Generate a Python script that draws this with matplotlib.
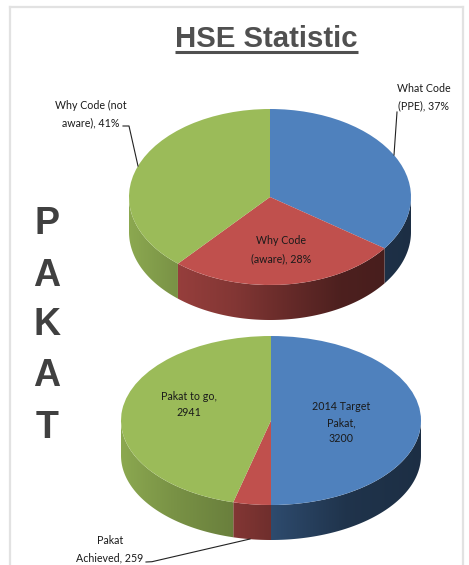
import numpy as np
import matplotlib
matplotlib.use("Agg")
import matplotlib.pyplot as plt
from matplotlib.colors import to_rgb
from matplotlib.patches import Polygon

W, H = 469, 565

top_categories = ["What Code (PPE)", "Why Code (aware)", "Why Code (not aware)"]
top_values = [37, 28, 41]
bottom_categories = ["2014 Target Pakat", "Pakat Achieved", "Pakat to go"]
bottom_values = [3200, 259, 2941]
title_text = "HSE Statistic"
side_letters = ["P", "A", "K", "A", "T"]
colors = ["#4f81bd", "#c0504d", "#9bbb59"]

fig = plt.figure(figsize=(W / 100, H / 100), dpi=100, facecolor="white")


def draw_pie(values, cx, cy, rx, ry, depth):
    left, right = cx - rx, cx + rx
    top, bottom = cy - ry, cy + ry + depth
    ax = fig.add_axes([left / W, 1 - bottom / H, 2 * rx / W, (bottom - top) / H])
    ax.pie(values, colors=colors, startangle=90, counterclock=False,
           radius=1, wedgeprops={"linewidth": 0, "zorder": 5}, normalize=True)
    ax.set_aspect("auto")
    d = depth / ry
    # extruded rim, shaded from left to right through a clipped gradient
    fracs = np.asarray(values, float) / np.sum(values)
    edges = 90 - 360 * np.concatenate([[0], np.cumsum(fracs)])
    u = np.linspace(-1, 1, 400)
    f = np.interp(u, [-1, -0.65, -0.25, 0, 0.5, 1],
                  [0.90, 0.78, 0.68, 0.58, 0.40, 0.36])
    for a0, a1, col in zip(edges[:-1], edges[1:], colors):
        th = np.radians(np.linspace(a0, a1, 400))
        th = th[np.sin(th) <= 1e-9]
        if th.size < 2:
            continue
        x, y = np.cos(th), np.sin(th)
        verts = np.column_stack([np.r_[x, x[::-1]], np.r_[y, y[::-1] - d]])
        clip = Polygon(verts, closed=True, transform=ax.transData,
                       facecolor="none", edgecolor="none")
        ax.add_patch(clip)
        img = f[None, :, None] * np.array(to_rgb(col))[None, None, :]
        im = ax.imshow(img, extent=(-1, 1, -1 - d, 1), aspect="auto",
                       interpolation="bilinear", zorder=1)
        im.set_clip_path(clip)
    ax.set_aspect("auto")
    ax.set_xlim(-1, 1)
    ax.set_ylim(-1 - d, 1)
    ax.axis("off")
    return ax


draw_pie(top_values, 270, 197, 141, 88, 35)
draw_pie(bottom_values, 271, 420.5, 150, 84.5, 35)

ov = fig.add_axes([0, 0, 1, 1], zorder=10)
ov.set_xlim(0, W)
ov.set_ylim(H, 0)
ov.axis("off")
ov.patch.set_alpha(0)

# page frame
ov.plot([10, 10], [7, 565], color="#e2e2e2", lw=1.6)
ov.plot([10, 463], [7, 7], color="#e2e2e2", lw=1.6)
ov.plot([463, 463], [7, 565], color="#e2e2e2", lw=1.6)

# title
ov.text(266.5, 39, title_text, family="Liberation Sans", weight="bold", fontsize=21.2,
        color="#505050", ha="center", va="center")
ov.plot([175, 358], [52, 52], color="#505050", lw=2.2, solid_capstyle="butt")

# side letters
for ch, y in zip(side_letters, [224, 276, 325, 376, 428]):
    ov.text(47, y, ch, family="Liberation Sans", weight="bold", fontsize=27,
            color="#404040", ha="center", va="center")

label_font = dict(family="Lato", fontsize=7.7, color="#1a1a1a", ha="center", va="center")
labels = [
    (424, 88, "What Code"), (424, 106, "(PPE), 37%"),
    (91, 105, "Why Code (not"), (91, 123, "aware), 41%"),
    (281, 241, "Why Code"), (281, 259, "(aware), 28%"),
    (189, 397, "Pakat to go,"), (189, 412, "2941"),
    (341, 407, "2014 Target"), (341, 423, "Pakat,"), (341, 439, "3200"),
    (110, 541, "Pakat"), (110, 558, "Achieved, 259"),
]
for x, y, s in labels:
    ov.text(x, y, s, **label_font)

# leader lines
for xs, ys in [([394, 397], [155, 112]),
               ([123, 129, 138], [126, 126, 166]),
               ([146, 152, 250], [562, 561.7, 539])]:
    ov.plot(xs, ys, color="#222222", lw=0.8)

fig.savefig("out.png", dpi=100)
